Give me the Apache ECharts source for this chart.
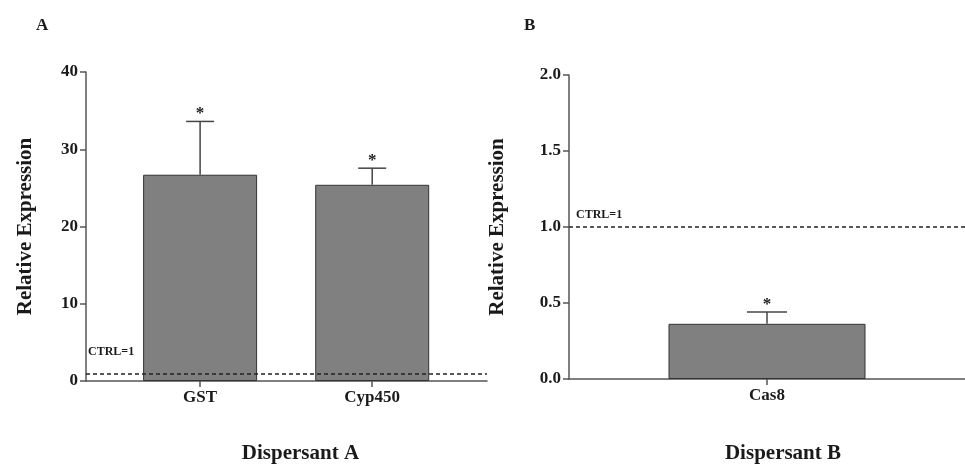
<!DOCTYPE html>
<html>
<head>
<meta charset="utf-8">
<script src="https://cdn.jsdelivr.net/npm/echarts@6/dist/echarts.min.js"></script>
<style>
  html, body { margin: 0; padding: 0; background: #fff; }
  #chart { width: 965px; height: 464px; }
</style>
</head>
<body>
<div id="chart"></div>
<script>
// panel A - dispersant A
const catsA = ['GST', 'Cyp450'];
const meanA = [26.7, 25.4];
const errA = [6.9, 2.15];
const ticksA = [0, 10, 20, 30, 40];

// panel B - dispersant B
const catsB = ['Cas8'];
const meanB = [0.363];
const errB = [0.077];
const ticksB = [0, 0.5, 1.0, 1.5, 2.0];

const ctrlValue = 1;

const font = 'Liberation Serif';
const ink = '#1a1a1a';
const axisColor = '#555';

// error bar + star, drawn from the data through the axes
function errItem(capW) {
  return function (params, api) {
    const x = api.value(0), m = api.value(1), e = api.value(2);
    const p0 = api.coord([x, m]);
    const p1 = api.coord([x, m + e]);
    const st = {stroke: '#444', lineWidth: 1.5};
    return {
      type: 'group',
      children: [
        {type: 'line', shape: {x1: p0[0], y1: p0[1], x2: p1[0], y2: p1[1]}, style: st},
        {type: 'line', shape: {x1: p1[0] - capW / 2, y1: p1[1], x2: p1[0] + capW / 2, y2: p1[1]}, style: st},
        {type: 'text', style: {text: '*', x: p1[0], y: p1[1] + 1, align: 'center', verticalAlign: 'bottom',
          font: 'bold 17px "' + font + '"', fill: ink}}
      ]
    };
  };
}

function yAxisOf(idx, ticks, gap, digits) {
  return {
    type: 'value', gridIndex: idx,
    min: ticks[0], max: ticks[ticks.length - 1], interval: ticks[1] - ticks[0],
    name: 'Relative Expression', nameLocation: 'middle', nameGap: gap,
    nameTextStyle: {fontFamily: font, fontWeight: 'bold', fontSize: 21, color: ink},
    axisLine: {show: true, onZero: false, lineStyle: {color: axisColor, width: 1.5}},
    axisTick: {show: true, length: 6, lineStyle: {color: axisColor, width: 1.5}},
    axisLabel: {margin: 8, fontFamily: font, fontWeight: 'bold', fontSize: 17, color: ink,
      formatter: v => v.toFixed(digits)},
    splitLine: {show: false}
  };
}

function xAxisOf(idx, cats, min, max, shift, gap) {
  const idxs = cats.map((c, i) => i);
  return {
    type: 'value', gridIndex: idx, min: min, max: max,
    name: idx === 0 ? 'Dispersant A' : 'Dispersant B', nameLocation: 'middle', nameGap: gap,
    nameTextStyle: {fontFamily: font, fontWeight: 'bold', fontSize: 21, color: ink, padding: [0, 0, 0, shift]},
    axisLine: {show: true, onZero: false, lineStyle: {color: axisColor, width: 1.5}},
    axisTick: {show: true, length: 6, customValues: idxs, lineStyle: {color: axisColor, width: 1.5}},
    axisLabel: {margin: 8, customValues: idxs, fontFamily: font, fontWeight: 'bold', fontSize: 17, color: ink,
      formatter: v => cats[Math.round(v)]},
    splitLine: {show: false}
  };
}

function ctrlLine(dist) {
  return {
    silent: true, symbol: 'none',
    data: [{yAxis: ctrlValue}],
    lineStyle: {type: [4, 3], color: '#222', width: 1.5},
    label: {show: true, position: 'insideStartTop', distance: dist, formatter: 'CTRL=' + ctrlValue,
      fontFamily: font, fontWeight: 'bold', fontSize: 12, color: ink}
  };
}

const chart = echarts.init(document.getElementById('chart'));

chart.setOption({
  animation: false,
  backgroundColor: '#fff',
  title: [
    {text: 'A', left: 36, top: 17, padding: 0, textStyle: {fontFamily: font, fontWeight: 'bold', fontSize: 17, color: ink}},
    {text: 'B', left: 524, top: 17, padding: 0, textStyle: {fontFamily: font, fontWeight: 'bold', fontSize: 17, color: ink}}
  ],
  grid: [
    {left: 86, right: 478, top: 72, bottom: 83, outerBoundsMode: 'none'},
    {left: 569, right: 0, top: 75, bottom: 85, outerBoundsMode: 'none'}
  ],
  xAxis: [
    xAxisOf(0, catsA, -0.663, 1.667, 28, 62),
    xAxisOf(1, catsB, -0.5, 0.5, 32, 64)
  ],
  yAxis: [
    yAxisOf(0, ticksA, 50, 0),
    yAxisOf(1, ticksB, 61, 1)
  ],
  series: [
    {
      type: 'bar', xAxisIndex: 0, yAxisIndex: 0, barWidth: 114,
      data: meanA.map((v, i) => [i, v]),
      itemStyle: {color: '#808080', borderColor: '#333', borderWidth: 1},
      markLine: ctrlLine([2, 15])
    },
    {
      type: 'custom', xAxisIndex: 0, yAxisIndex: 0, z: 3,
      renderItem: errItem(28),
      data: meanA.map((v, i) => [i, v, errA[i]])
    },
    {
      type: 'bar', xAxisIndex: 1, yAxisIndex: 1, barWidth: 197,
      data: meanB.map((v, i) => [i, v]),
      itemStyle: {color: '#808080', borderColor: '#333', borderWidth: 1},
      markLine: ctrlLine([7, 6])
    },
    {
      type: 'custom', xAxisIndex: 1, yAxisIndex: 1, z: 3,
      renderItem: errItem(40),
      data: meanB.map((v, i) => [i, v, errB[i]])
    }
  ]
});
</script>
</body>
</html>
